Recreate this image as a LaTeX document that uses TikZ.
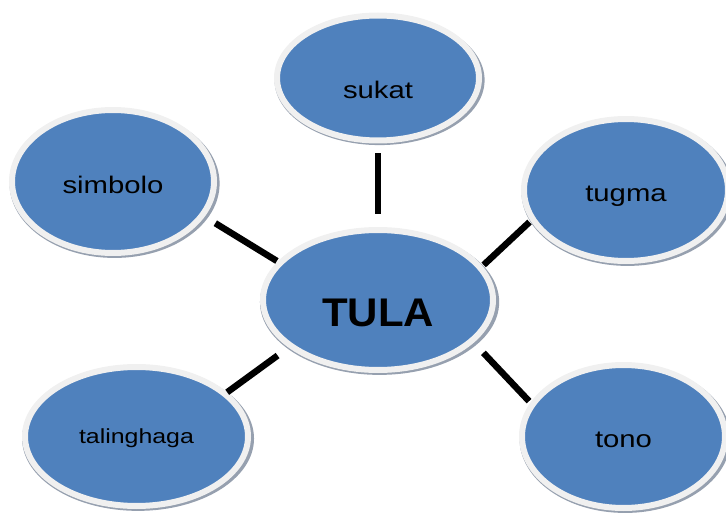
\documentclass[tikz,border=0pt]{standalone}
\usepackage{fontspec}
\setmainfont{Liberation Sans}
\newfontfamily\labelfont[FakeStretch=1.22]{Liberation Sans}
\newfontfamily\hubfont[FakeStretch=1.05]{Liberation Sans}
\usetikzlibrary{shapes.geometric,shadows}
\definecolor{ovalblue}{RGB}{79,129,189}
\definecolor{ringgray}{RGB}{240,240,240}
\definecolor{shadegray}{RGB}{150,160,175}
\tikzset{
  oval/.style={ellipse,fill=ovalblue,draw=ringgray,line width=6pt,text depth=0pt,
    drop shadow={shadow xshift=1.5pt,shadow yshift=-2pt,shadow scale=1.04,fill=shadegray,opacity=1}},
  link/.style={line width=6.5pt}
}

\begin{document}
\begin{tikzpicture}[x=1pt,y=-1pt,font=\labelfont\fontsize{24}{28}\selectfont]
\useasboundingbox (0,0) rectangle (726,513);
\node[oval,minimum width=230pt,minimum height=140pt,text height=53pt,
  font=\hubfont\bfseries\fontsize{40}{48}\selectfont] (tula) at (378,300) {TULA};
\node[oval,minimum width=202pt,minimum height=125pt,text height=42pt] (sukat) at (378,78) {sukat};
\node[oval,minimum width=202pt,minimum height=143pt,text height=25pt] (simbolo) at (113,181.5) {simbolo};
\node[oval,minimum width=204pt,minimum height=142pt,text height=23pt] (tugma) at (626,190) {tugma};
\node[oval,minimum width=223pt,minimum height=139pt,text height=13pt,
  font=\labelfont\fontsize{20.4}{24}\selectfont] (talinghaga) at (136.5,436.5) {talinghaga};
\node[oval,minimum width=203pt,minimum height=143pt,text height=21pt] (tono) at (623.5,436.5) {tono};
% connectors
\draw[link,shorten <=10pt,shorten >=13pt] (sukat.south) -- (tula.north);
\draw[link,shorten <=1pt,shorten >=12.5pt] (tula.159) -- (simbolo.339);
\draw[link,shorten <=1.6pt,shorten >=1.6pt] (tula.18) -- (tugma.198);
\draw[link,shorten <=13.5pt] (tula.208) -- (talinghaga.26);
\draw[link,shorten <=14pt,shorten >=2pt] (tula.336) -- (tono.160);
\end{tikzpicture}
\end{document}
